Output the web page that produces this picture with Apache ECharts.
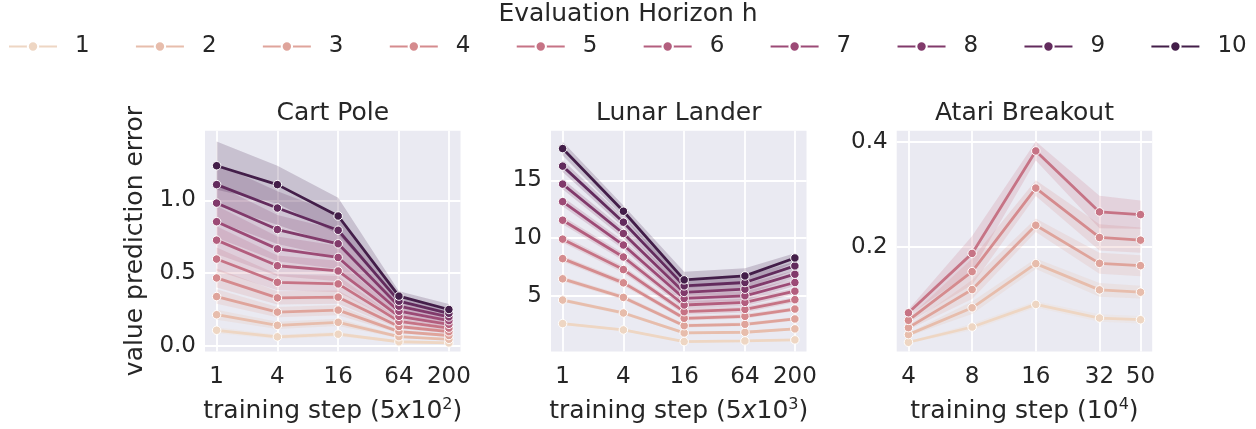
<!DOCTYPE html>
<html>
<head>
<meta charset="utf-8">
<script src="https://cdn.jsdelivr.net/npm/echarts@6/dist/echarts.min.js"></script>
<style>
html,body{margin:0;padding:0;background:#fff;}
#chart{width:1256px;height:429px;}
</style>
</head>
<body>
<div id="chart"></div>
<script>
// ---------- data ----------
const horizons = ['1','2','3','4','5','6','7','8','9','10'];
const stepsCP = [1, 4, 16, 64, 200];
const stepsLL = [1, 4, 16, 64, 200];
const stepsAB = [4, 8, 16, 32, 50];
const ticksCP = [0, 0.5, 1.0];
const ticksLL = [5, 10, 15];
const ticksAB = [0.2, 0.4];

// Cart Pole mean value prediction error, h = 1..10
const cpMean = [
  [0.107, 0.062, 0.080, 0.028, 0.020],
  [0.214, 0.141, 0.162, 0.063, 0.045],
  [0.339, 0.232, 0.246, 0.098, 0.071],
  [0.467, 0.330, 0.335, 0.133, 0.097],
  [0.597, 0.437, 0.426, 0.168, 0.122],
  [0.727, 0.551, 0.515, 0.203, 0.148],
  [0.854, 0.667, 0.608, 0.238, 0.173],
  [0.982, 0.800, 0.702, 0.273, 0.199],
  [1.109, 0.948, 0.795, 0.307, 0.224],
  [1.239, 1.109, 0.893, 0.342, 0.250]
];
const cpErr = [
  [0.020, 0.015, 0.015, 0.006, 0.005],
  [0.035, 0.025, 0.025, 0.009, 0.007],
  [0.050, 0.035, 0.035, 0.012, 0.010],
  [0.065, 0.045, 0.045, 0.015, 0.013],
  [0.080, 0.055, 0.055, 0.018, 0.016],
  [0.095, 0.070, 0.070, 0.021, 0.019],
  [0.110, 0.085, 0.080, 0.024, 0.023],
  [0.125, 0.100, 0.095, 0.027, 0.027],
  [0.145, 0.115, 0.110, 0.030, 0.032],
  [0.166, 0.130, 0.125, 0.034, 0.038]
];

// Lunar Lander
const llMean = [
  [2.59, 2.04, 1.03, 1.09, 1.18],
  [4.63, 3.51, 1.78, 1.84, 2.13],
  [6.47, 4.86, 2.41, 2.53, 2.99],
  [8.22, 6.12, 3.05, 3.22, 3.85],
  [9.91, 7.27, 3.62, 3.82, 4.66],
  [11.55, 8.36, 4.20, 4.43, 5.40],
  [13.16, 9.40, 4.77, 5.00, 6.15],
  [14.68, 10.40, 5.29, 5.57, 6.87],
  [16.24, 11.38, 5.86, 6.15, 7.59],
  [17.76, 12.33, 6.38, 6.72, 8.28]
];
const llErr = [
  [0.10, 0.10, 0.08, 0.08, 0.08],
  [0.15, 0.15, 0.12, 0.12, 0.12],
  [0.20, 0.20, 0.16, 0.16, 0.15],
  [0.25, 0.25, 0.20, 0.20, 0.18],
  [0.30, 0.30, 0.26, 0.26, 0.22],
  [0.35, 0.33, 0.32, 0.32, 0.26],
  [0.40, 0.37, 0.40, 0.40, 0.30],
  [0.45, 0.41, 0.48, 0.48, 0.33],
  [0.52, 0.45, 0.58, 0.56, 0.37],
  [0.60, 0.50, 0.70, 0.67, 0.40]
];

// Atari Breakout (h = 1..5)
const abMean = [
  [0.0189, 0.0479, 0.0909, 0.0650, 0.0618],
  [0.0334, 0.0845, 0.1685, 0.1186, 0.1142],
  [0.0467, 0.1192, 0.2416, 0.1691, 0.1647],
  [0.0606, 0.1533, 0.3123, 0.2183, 0.2132],
  [0.0750, 0.1880, 0.3830, 0.2669, 0.2618]
];
const abErr = [
  [0.002, 0.006, 0.006, 0.007, 0.007],
  [0.003, 0.012, 0.010, 0.013, 0.012],
  [0.004, 0.018, 0.013, 0.020, 0.020],
  [0.005, 0.025, 0.015, 0.025, 0.024],
  [0.006, 0.033, 0.018, 0.031, 0.027]
];

// ---------- palette (warm cubehelix, light peach -> dark purple) ----------
function cubehelix(x) {
  const start = 0.15, rot = 0.4, hue = 1.0;
  const a = hue * x * (1 - x) / 2;
  const phi = 2 * Math.PI * (start / 3 + rot * x);
  const c = Math.cos(phi), s = Math.sin(phi);
  const r = x + a * (-0.14861 * c + 1.78277 * s);
  const g = x + a * (-0.29227 * c - 0.90649 * s);
  const b = x + a * (1.97294 * c);
  const f = v => Math.round(Math.max(0, Math.min(1, v)) * 255);
  return [f(r), f(g), f(b)];
}
const palette = horizons.map((h, i) => cubehelix(0.86 - 0.68 * i / 9));
const rgb = c => 'rgb(' + c.join(',') + ')';
const rgba = (c, a) => 'rgba(' + c.join(',') + ',' + a + ')';

const TXT = '#262626';
const FONT = 'DejaVu Sans';

const panels = [
  {title: 'Cart Pole', steps: stepsCP, mean: cpMean, err: cpErr, ticks: ticksCP,
   left: 205, xmin: 0.767, xmax: 260.7, ymin: -0.039, ymax: 1.48, fmt: v => v.toFixed(1),
   xname: '{a|training step (5}{i|x}{a|10}{s|2}{a|)}'},
  {title: 'Lunar Lander', steps: stepsLL, mean: llMean, err: llErr, ticks: ticksLL,
   left: 551, xmin: 0.767, xmax: 260.7, ymin: 0.17, ymax: 19.31, fmt: v => String(v),
   xname: '{a|training step (5}{i|x}{a|10}{s|3}{a|)}'},
  {title: 'Atari Breakout', steps: stepsAB, mean: abMean, err: abErr, ticks: ticksAB,
   left: 896.7, xmin: 3.52, xmax: 56.8, ymin: 0.0013, ymax: 0.4215, fmt: v => v.toFixed(1),
   xname: '{a|training step (10}{s|4}{a|)}'}
];

const grids = [], xAxes = [], yAxes = [], series = [], graphics = [];
const GW = 255.5, GT = 130.7, GH = 222;

panels.forEach((p, k) => {
  grids.push({left: p.left, top: GT, width: GW, height: GH, show: true,
    backgroundColor: '#EAEAF2', borderWidth: 0, containLabel: false});
  xAxes.push({
    type: 'log', logBase: 10, gridIndex: k, min: p.xmin, max: p.xmax,
    axisLine: {show: false},
    axisTick: {show: false, customValues: p.steps},
    axisLabel: {customValues: p.steps, formatter: v => String(Math.round(v)),
      fontSize: 23, color: TXT, fontFamily: FONT, margin: 14},
    splitLine: {show: true, lineStyle: {color: '#ffffff', width: 1.8}},
    minorTick: {show: false}, minorSplitLine: {show: false},
    name: p.xname, nameLocation: 'middle', nameGap: 45,
    nameTextStyle: {
      fontSize: 25, color: TXT, fontFamily: FONT,
      rich: {
        a: {fontSize: 25, color: TXT, fontFamily: FONT, lineHeight: 30},
        i: {fontSize: 25, color: TXT, fontFamily: FONT, fontStyle: 'italic', lineHeight: 30},
        s: {fontSize: 16, color: TXT, fontFamily: FONT, verticalAlign: 'top', lineHeight: 30}
      }
    }
  });
  const ya = {
    type: 'value', gridIndex: k, min: p.ymin, max: p.ymax,
    axisLine: {show: false},
    axisTick: {show: false, customValues: p.ticks},
    axisLabel: {customValues: p.ticks, formatter: p.fmt, fontSize: 23, color: TXT,
      fontFamily: FONT, margin: 9},
    splitLine: {show: true, lineStyle: {color: '#ffffff', width: 1.8}}
  };
  if (k === 0) {
    ya.name = 'value prediction error';
    ya.nameLocation = 'middle';
    ya.nameGap = 57;
    ya.nameTextStyle = {fontSize: 25, color: TXT, fontFamily: FONT};
  }
  yAxes.push(ya);

  // confidence bands (drawn below all lines) as polygons through the axis scales
  p.mean.forEach((m, i) => {
    const bandData = p.steps.map((s, j) => [s, m[j] - p.err[i][j], m[j] + p.err[i][j]]);
    const col = rgba(palette[i], 0.2);
    series.push({
      type: 'custom', name: 'band' + k + '_' + i, xAxisIndex: k, yAxisIndex: k,
      data: bandData, encode: {x: 0, y: [1, 2]}, silent: true, z: 1, clip: true,
      renderItem: function (params, api) {
        if (params.dataIndex !== 0) return null;
        const upper = bandData.map(d => api.coord([d[0], d[2]]));
        const lower = bandData.map(d => api.coord([d[0], d[1]])).reverse();
        return {type: 'polygon', shape: {points: upper.concat(lower)},
          style: {fill: col, stroke: null}};
      }
    });
  });
  p.mean.forEach((m, i) => {
    series.push({type: 'line', name: horizons[i], xAxisIndex: k, yAxisIndex: k,
      data: p.steps.map((s, j) => [s, m[j]]),
      symbol: 'circle', symbolSize: 8.5,
      lineStyle: {color: rgb(palette[i]), width: 2.8},
      itemStyle: {color: rgb(palette[i]), borderColor: '#ffffff', borderWidth: 1},
      emphasis: {disabled: true}, z: 3});
  });

  graphics.push({type: 'text', x: p.left + GW / 2, y: 113,
    style: {text: p.title, font: '25px "DejaVu Sans"', fill: TXT, align: 'center', verticalAlign: 'middle'}});
});

graphics.push({type: 'text', x: 628, y: 14,
  style: {text: 'Evaluation Horizon h', font: '25px "DejaVu Sans"', fill: TXT, align: 'center', verticalAlign: 'middle'}});

const chart = echarts.init(document.getElementById('chart'), null, {renderer: 'canvas'});
chart.setOption({
  animation: false,
  backgroundColor: '#ffffff',
  textStyle: {fontFamily: FONT},
  grid: grids, xAxis: xAxes, yAxis: yAxes, series: series,
  graphic: graphics,
  legend: {
    data: horizons, left: 8, top: 35, padding: 0, orient: 'horizontal',
    itemWidth: 48, itemHeight: 13, itemGap: 45.3,
    textStyle: {fontSize: 23, color: TXT, fontFamily: FONT, padding: [0, 0, 0, 13]},
    selectedMode: false
  }
});
</script>
</body>
</html>
